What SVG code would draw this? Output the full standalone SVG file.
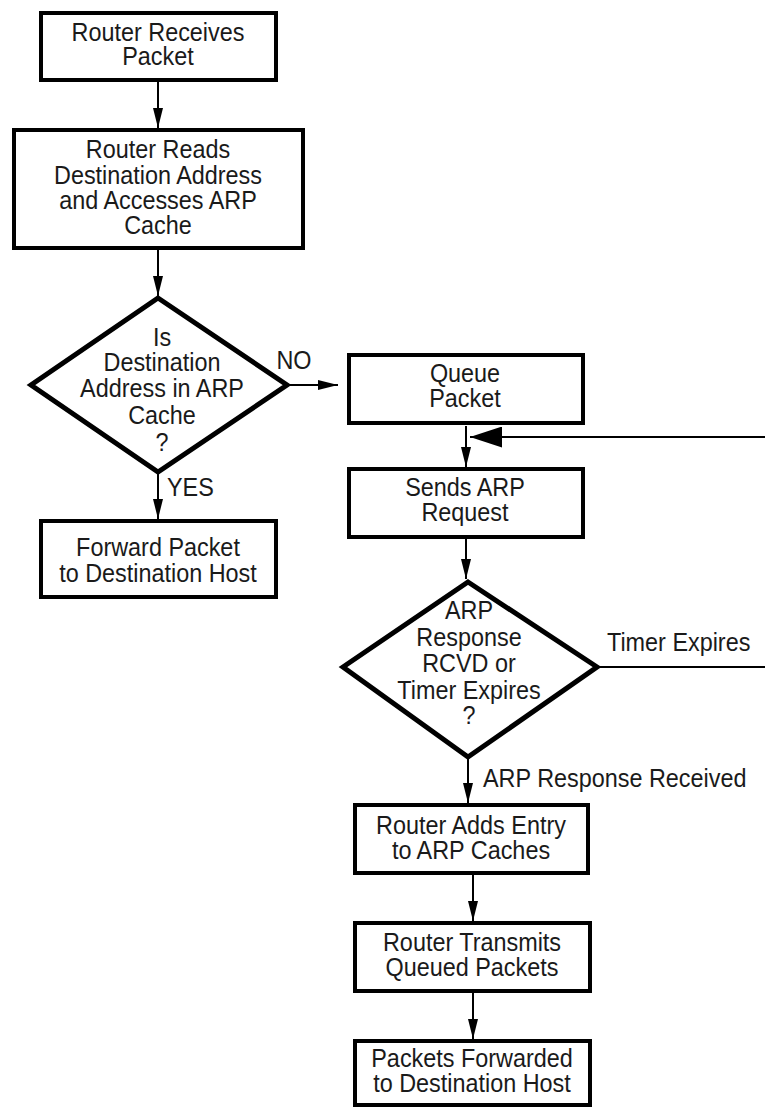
<svg xmlns="http://www.w3.org/2000/svg" width="765" height="1109" viewBox="0 0 765 1109">
  <style>
    .box { fill: #ffffff; stroke: #000000; stroke-width: 4; }
    .dia { fill: #ffffff; stroke: #000000; stroke-width: 5; stroke-linejoin: miter; }
    .edge { fill: none; stroke: #000000; stroke-width: 2; }
    text { font-family: "Liberation Sans", Arial, Helvetica, sans-serif; font-size: 26px; fill: #1a1a1a; }
    .c { text-anchor: middle; }
  </style>
  <defs>
    <marker id="arrow" markerUnits="userSpaceOnUse" markerWidth="20" markerHeight="10" refX="20" refY="5" orient="auto">
      <path d="M0,0 L20,5 L0,10 Z" fill="#000000"/>
    </marker>
    <marker id="arrowBig" markerUnits="userSpaceOnUse" markerWidth="32" markerHeight="21" refX="32" refY="10.5" orient="auto">
      <path d="M0,0 L32,10.5 L0,21 Z" fill="#000000"/>
    </marker>
  </defs>

  <rect width="765" height="1109" fill="#ffffff"/>

  <!-- connectors -->
  <g id="connectors">
    <line class="edge" x1="158" y1="82" x2="158" y2="128" marker-end="url(#arrow)"/>
    <line class="edge" x1="158" y1="250" x2="158" y2="296" marker-end="url(#arrow)"/>
    <line class="edge" x1="289" y1="385" x2="338" y2="385" marker-end="url(#arrow)"/>
    <line class="edge" x1="158" y1="474" x2="158" y2="519" marker-end="url(#arrow)"/>
    <line class="edge" x1="466" y1="426" x2="466" y2="467" marker-end="url(#arrow)"/>
    <line class="edge" x1="765" y1="437" x2="470" y2="437" marker-end="url(#arrowBig)"/>
    <line class="edge" x1="466" y1="539" x2="466" y2="579" marker-end="url(#arrow)"/>
    <line class="edge" x1="599" y1="667" x2="765" y2="667"/>
    <line class="edge" x1="468" y1="759" x2="468" y2="803" marker-end="url(#arrow)"/>
    <line class="edge" x1="473" y1="875" x2="473" y2="921" marker-end="url(#arrow)"/>
    <line class="edge" x1="473" y1="993" x2="473" y2="1039" marker-end="url(#arrow)"/>

    <g transform="translate(294,369) scale(0.9,1)"><text class="c" x="0" y="0">NO</text></g>
    <g transform="translate(167,496) scale(0.9,1)"><text x="0" y="0">YES</text></g>
    <g transform="translate(607,651) scale(0.9,1)"><text x="0" y="0">Timer Expires</text></g>
    <g transform="translate(483,787) scale(0.9,1)"><text x="0" y="0">ARP Response Received</text></g>
  </g>

  <!-- nodes -->
  <g id="n-receive">
    <rect class="box" x="41" y="13" width="235" height="67"/>
    <g transform="translate(158,0) scale(0.9,1)">
      <text class="c" x="0" y="41">Router Receives</text>
      <text class="c" x="0" y="65">Packet</text>
    </g>
  </g>

  <g id="n-read">
    <rect class="box" x="14" y="130" width="289" height="118"/>
    <g transform="translate(158,0) scale(0.9,1)">
      <text class="c" x="0" y="158">Router Reads</text>
      <text class="c" x="0" y="184">Destination Address</text>
      <text class="c" x="0" y="209">and Accesses ARP</text>
      <text class="c" x="0" y="234">Cache</text>
    </g>
  </g>

  <g id="n-incache">
    <polygon class="dia" points="158,298 287,385 158,472 31,385"/>
    <g transform="translate(162,0) scale(0.9,1)">
      <text class="c" x="0" y="346">Is</text>
      <text class="c" x="0" y="371">Destination</text>
      <text class="c" x="0" y="397">Address in ARP</text>
      <text class="c" x="0" y="424">Cache</text>
      <text class="c" x="0" y="451">?</text>
    </g>
  </g>

  <g id="n-forward">
    <rect class="box" x="41" y="521" width="235" height="76"/>
    <g transform="translate(158,0) scale(0.9,1)">
      <text class="c" x="0" y="556">Forward Packet</text>
      <text class="c" x="0" y="582">to Destination Host</text>
    </g>
  </g>

  <g id="n-queue">
    <rect class="box" x="349" y="355" width="234" height="68"/>
    <g transform="translate(465,0) scale(0.9,1)">
      <text class="c" x="0" y="382">Queue</text>
      <text class="c" x="0" y="407">Packet</text>
    </g>
  </g>

  <g id="n-request">
    <rect class="box" x="349" y="469" width="234" height="68"/>
    <g transform="translate(465,0) scale(0.9,1)">
      <text class="c" x="0" y="496">Sends ARP</text>
      <text class="c" x="0" y="521">Request</text>
    </g>
  </g>

  <g id="n-response">
    <polygon class="dia" points="468,582 597,667 468,757 343,667"/>
    <g transform="translate(469,0) scale(0.9,1)">
      <text class="c" x="0" y="619">ARP</text>
      <text class="c" x="0" y="646">Response</text>
      <text class="c" x="0" y="672">RCVD or</text>
      <text class="c" x="0" y="699">Timer Expires</text>
      <text class="c" x="0" y="724">?</text>
    </g>
  </g>

  <g id="n-addentry">
    <rect class="box" x="355" y="805" width="233" height="68"/>
    <g transform="translate(471,0) scale(0.9,1)">
      <text class="c" x="0" y="834">Router Adds Entry</text>
      <text class="c" x="0" y="859">to ARP Caches</text>
    </g>
  </g>

  <g id="n-transmit">
    <rect class="box" x="355" y="923" width="235" height="68"/>
    <g transform="translate(472,0) scale(0.9,1)">
      <text class="c" x="0" y="951">Router Transmits</text>
      <text class="c" x="0" y="976">Queued Packets</text>
    </g>
  </g>

  <g id="n-delivered">
    <rect class="box" x="355" y="1041" width="235" height="64"/>
    <g transform="translate(472,0) scale(0.9,1)">
      <text class="c" x="0" y="1067">Packets Forwarded</text>
      <text class="c" x="0" y="1092">to Destination Host</text>
    </g>
  </g>
</svg>
